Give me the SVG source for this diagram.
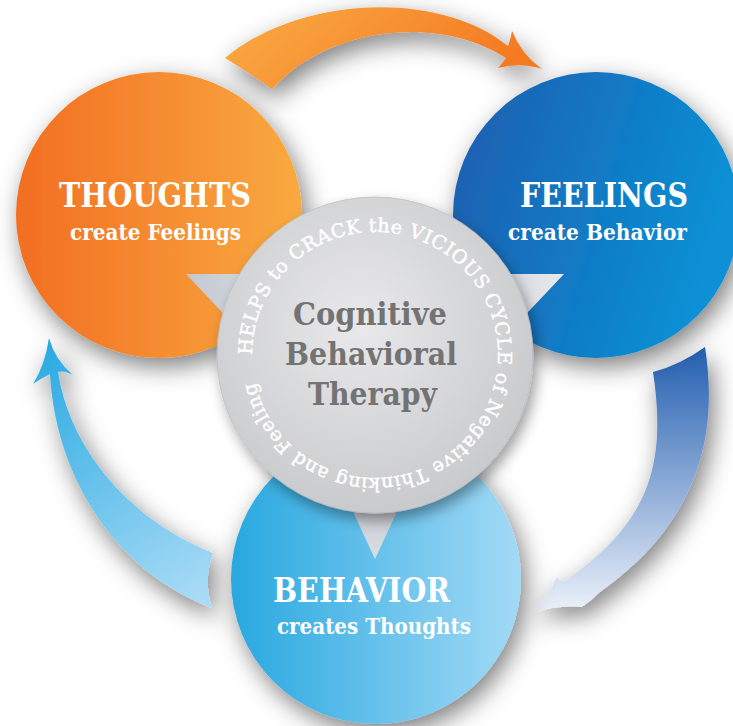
<svg xmlns="http://www.w3.org/2000/svg" width="733" height="726" viewBox="0 0 733 726">
<defs>
<filter id="sh" x="-30%" y="-30%" width="160%" height="160%">
<feDropShadow dx="5" dy="9" stdDeviation="12" flood-color="#000" flood-opacity="0.5"/>
</filter>
<filter id="shs" x="-30%" y="-30%" width="160%" height="160%">
<feDropShadow dx="4" dy="7" stdDeviation="7" flood-color="#000" flood-opacity="0.38"/>
</filter>
<linearGradient id="gOrange" x1="0" y1="0" x2="1" y2="0">
<stop offset="0" stop-color="#f26e22"/><stop offset="1" stop-color="#f9aa40"/>
</linearGradient>
<linearGradient id="gBlue" x1="0" y1="0" x2="1" y2="0.3">
<stop offset="0" stop-color="#1f5caf"/><stop offset="1" stop-color="#0890d5"/>
</linearGradient>
<linearGradient id="gLight" x1="0" y1="0" x2="1" y2="0">
<stop offset="0" stop-color="#28a8e0"/><stop offset="1" stop-color="#a3daf6"/>
</linearGradient>
<linearGradient id="aOrange" x1="0" y1="0" x2="1" y2="0.3">
<stop offset="0" stop-color="#faad45"/><stop offset="1" stop-color="#f47a22"/>
</linearGradient>
<linearGradient id="aBlue" gradientUnits="userSpaceOnUse" x1="0" y1="350" x2="0" y2="615">
<stop offset="0" stop-color="#2560b2"/><stop offset="1" stop-color="#eef3fa"/>
</linearGradient>
<linearGradient id="aLight" gradientUnits="userSpaceOnUse" x1="50" y1="340" x2="210" y2="600">
<stop offset="0" stop-color="#2aaae2"/><stop offset="1" stop-color="#abdcf6"/>
</linearGradient>
<radialGradient id="gGray" cx="0.45" cy="0.4" r="0.6">
<stop offset="0" stop-color="#e9e9eb"/><stop offset="1" stop-color="#c9cacc"/>
</radialGradient>
<linearGradient id="tH" x1="0" y1="0" x2="1" y2="0">
<stop offset="0" stop-color="#c3c7d0"/><stop offset="1" stop-color="#e8e9ec"/>
</linearGradient>
<linearGradient id="tHr" x1="1" y1="0" x2="0" y2="0">
<stop offset="0" stop-color="#e8e9ec"/><stop offset="1" stop-color="#c3c7d0"/>
</linearGradient>
<linearGradient id="tV" x1="0" y1="0" x2="0" y2="1">
<stop offset="0" stop-color="#b5bac6"/><stop offset="1" stop-color="#dcdee2"/>
</linearGradient>
<path id="ring" d="M 252 355 A 123 123 0 1 1 498 355 A 123 123 0 1 1 252 355"/>
<style>
.lbl{font-family:"DejaVu Serif","Liberation Serif",serif;font-weight:bold;fill:#ffffff;}
.big{font-size:33px;}
.sub{font-size:22px;}
.ctr{font-family:"DejaVu Serif","Liberation Serif",serif;font-weight:bold;font-size:32px;fill:#737373;}
.ring{font-family:"DejaVu Serif","Liberation Serif",serif;font-size:19px;fill:#ffffff;stroke:#ffffff;stroke-width:0.45;}
</style>
</defs>
<rect width="733" height="726" fill="#ffffff"/>

<g id="connectors">
<path id="arrow-top" filter="url(#sh)" fill="url(#aOrange)" d="M 225 58 C 300 -5 440 -10 508 46 Q 511 38 512 31 Q 522 55 542 69 Q 520 62 498 68 Q 503 62 506 58 C 440 15 330 25 272 89 Q 245 70 225 58 Z"/>
<path id="arrow-right" filter="url(#sh)" fill="url(#aBlue)" d="M 705 347 C 718 430 702 520 600 592 Q 592 600 582 607 Q 555 605 533 613 Q 548 595 557 577 Q 560 582 566 580 C 645 525 668 470 653 372 Q 680 365 705 347 Z"/>
<path id="arrow-left" filter="url(#sh)" fill="url(#aLight)" d="M 213 553 C 130 520 70 450 58 372 Q 64 370 73 375 Q 55 360 49 338 Q 45 365 33 384 Q 42 378 50 374 C 55 470 110 570 212 608 Q 203 580 213 553 Z"/>
</g>

<g id="thoughts">
<circle cx="159" cy="215" r="143" fill="url(#gOrange)" filter="url(#sh)"/>
<text class="lbl big" x="59" y="207" textLength="192" lengthAdjust="spacingAndGlyphs">THOUGHTS</text>
<text class="lbl sub" x="70" y="240" textLength="171" lengthAdjust="spacingAndGlyphs">create Feelings</text>
</g>

<g id="feelings">
<circle cx="596" cy="215" r="143" fill="url(#gBlue)" filter="url(#sh)"/>
<text class="lbl big" x="520" y="207" textLength="168" lengthAdjust="spacingAndGlyphs">FEELINGS</text>
<text class="lbl sub" x="508" y="240" textLength="179" lengthAdjust="spacingAndGlyphs">create Behavior</text>
</g>

<g id="behavior">
<circle cx="376" cy="579" r="145" fill="url(#gLight)" filter="url(#sh)"/>
<text class="lbl big" x="273" y="602" textLength="177" lengthAdjust="spacingAndGlyphs">BEHAVIOR</text>
<text class="lbl sub" x="277" y="634" textLength="194" lengthAdjust="spacingAndGlyphs">creates Thoughts</text>
</g>

<g id="pointers">
<polygon points="186,274 322,274 254,346" fill="url(#tH)"/>
<polygon points="564,274 428,274 496,346" fill="url(#tHr)"/>
<polygon points="329,460 421,460 375,559" fill="url(#tV)"/>
</g>

<g id="cbt">
<circle cx="375" cy="355" r="158" fill="url(#gGray)" stroke="#bdbec0" stroke-width="0.8" filter="url(#shs)"/>
<text class="ring"><textPath href="#ring" textLength="745" lengthAdjust="spacing">HELPS to CRACK the VICIOUS CYCLE of Negative Thinking and Feeling</textPath></text>
<text class="ctr" x="293" y="325" textLength="154" lengthAdjust="spacingAndGlyphs">Cognitive</text>
<text class="ctr" x="285" y="365" textLength="172" lengthAdjust="spacingAndGlyphs">Behavioral</text>
<text class="ctr" x="308" y="405" textLength="129" lengthAdjust="spacingAndGlyphs">Therapy</text>
</g>
</svg>
